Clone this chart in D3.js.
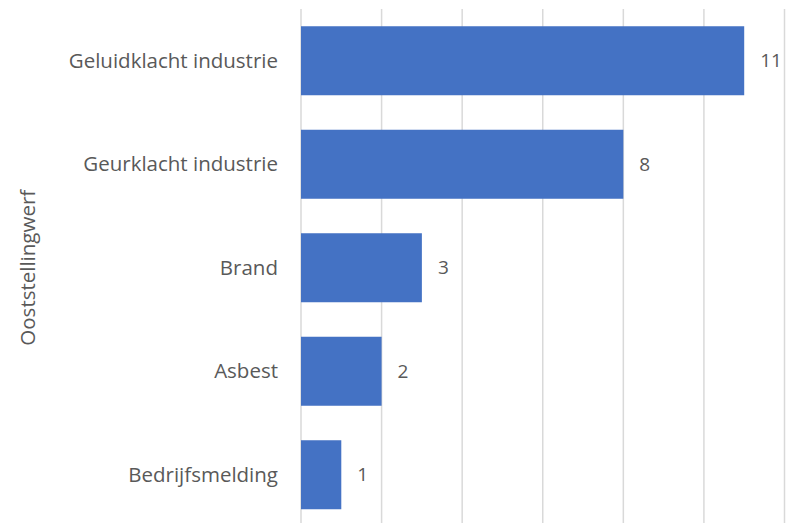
<!DOCTYPE html>
<html>
<head>
<meta charset="utf-8">
<script src="https://cdn.jsdelivr.net/npm/d3@7"></script>
<style>
  html, body { margin: 0; padding: 0; background: #fff; }
  svg { display: block; }
  text { font-family: "Open Sans", Lato, sans-serif; fill: #595959; }
</style>
</head>
<body>
<svg id="chart" width="787" height="523"></svg>
<script>
// Meldingen per categorie, Ooststellingwerf
const categories = ["Geluidklacht industrie", "Geurklacht industrie", "Brand", "Asbest", "Bedrijfsmelding"];
const counts = [11, 8, 3, 2, 1];
const xTicks = [0, 2, 4, 6, 8, 10, 12];
const groupLabel = "Ooststellingwerf";

const svg = d3.select("#chart");
const plotLeft = 301, plotRight = 784.5, plotTop = 9, plotBottom = 526.5;

const x = d3.scaleLinear().domain([0, 12]).range([plotLeft, plotRight]);
const y = d3.scaleBand().domain(categories).range([plotTop, plotBottom])
  .paddingInner(1 / 3).paddingOuter(1 / 6);

// vertical gridlines
svg.append("g").selectAll("line").data(xTicks).join("line")
  .attr("x1", d => x(d)).attr("x2", d => x(d))
  .attr("y1", plotTop).attr("y2", 523)
  .attr("stroke", "#d9d9d9").attr("stroke-width", 1.5);

// bars
svg.append("g").selectAll("rect").data(categories).join("rect")
  .attr("x", x(0))
  .attr("y", d => y(d))
  .attr("width", (d, i) => x(counts[i]) - x(0))
  .attr("height", y.bandwidth())
  .attr("fill", "#4472c4");

// value labels
svg.append("g").selectAll("text").data(categories).join("text")
  .attr("x", (d, i) => x(counts[i]) + 16)
  .attr("y", d => y(d) + y.bandwidth() / 2)
  .attr("dy", "0.35em")
  .attr("font-size", 19)
  .text((d, i) => counts[i]);

// category labels
svg.append("g").selectAll("text").data(categories).join("text")
  .attr("x", 278)
  .attr("y", d => y(d) + y.bandwidth() / 2)
  .attr("dy", "0.35em")
  .attr("text-anchor", "end")
  .attr("font-size", 20.5)
  .text(d => d);

// group title
svg.append("text")
  .attr("transform", `translate(35, ${(plotTop + plotBottom) / 2}) rotate(-90)`)
  .attr("text-anchor", "middle")
  .attr("font-size", 20.5)
  .text(groupLabel);
</script>
</body>
</html>
